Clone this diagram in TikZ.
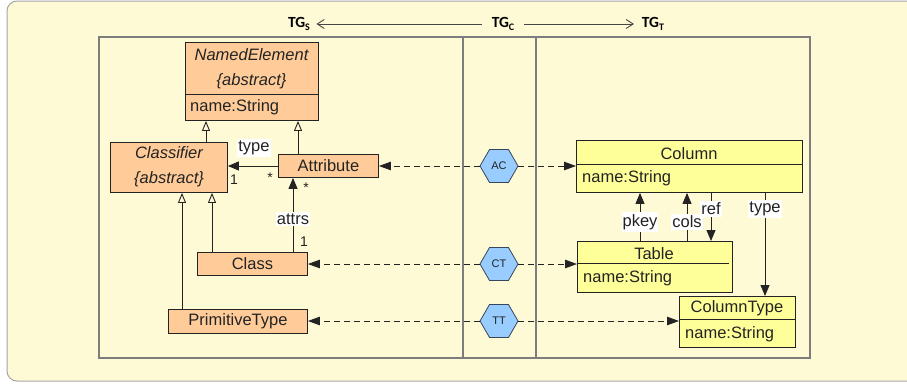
\documentclass[tikz,border=0pt]{standalone}
\usepackage{fontspec}
\setmainfont{Liberation Sans}
\newfontfamily\titlefont{Carlito}
\usetikzlibrary{arrows.meta,shapes.geometric}

\definecolor{bgcream}{RGB}{255,250,214}
\definecolor{bgedge}{RGB}{165,165,165}
\definecolor{framegray}{RGB}{125,125,125}
\definecolor{peach}{RGB}{255,204,153}
\definecolor{lemon}{RGB}{255,255,153}
\definecolor{skyblue}{RGB}{153,204,255}
\definecolor{hexedge}{RGB}{55,70,95}
\definecolor{inkdark}{RGB}{35,35,35}
\definecolor{titleink}{RGB}{70,70,70}

\tikzset{
  txt/.style={font=\fontsize{16.5}{19}\selectfont, inner sep=0pt, text=inkdark},
  itxt/.style={txt, font=\fontsize{16.5}{19}\selectfont\itshape},
  mult/.style={font=\fontsize{14}{14}\selectfont, inner sep=0pt, text=inkdark},
  lbl/.style={txt, fill=white, inner xsep=1pt, inner ysep=2pt},
  umlbox/.style={txt, draw=inkdark, line width=0.9pt, anchor=north west},
  obox/.style={umlbox, fill=peach},
  ybox/.style={umlbox, fill=lemon},
  sepline/.style={draw=inkdark, line width=0.9pt},
  hexa/.style={regular polygon, regular polygon sides=6, minimum size=38pt,
    inner sep=0pt, fill=skyblue, draw=hexedge, line width=0.8pt,
    font=\fontsize{11}{11}\selectfont, text=inkdark},
  gen/.style={draw=inkdark, line width=0.9pt,
    -{Triangle[open, length=10pt, width=8pt, line width=0.9pt]}},
  assoc/.style={draw=inkdark, line width=0.9pt,
    -{Triangle[length=11pt, width=9pt]}},
  corr/.style={draw=inkdark, line width=0.9pt, dash pattern=on 6pt off 4pt,
    -{Triangle[length=12pt, width=8.5pt]}},
  frame/.style={draw=framegray, line width=1.5pt},
  ttl/.style={font=\titlefont\bfseries\fontsize{15.5}{16}\selectfont, inner sep=0pt, text=black},
  titlearr/.style={draw=titleink, line width=0.9pt,
    -{Straight Barb[length=7pt, width=9pt, line width=0.9pt]}}
}

\newcommand{\tgsub}[1]{TG\raisebox{-0.3ex}{\fontsize{10}{10}\selectfont #1}}

\begin{document}
\begin{tikzpicture}[x=1pt, y=-1pt]
\useasboundingbox (0,0) rectangle (907,383);
\clip (0,0) rectangle (907,383);

% background panel
\draw[fill=bgcream, draw=bgedge, line width=1pt, rounded corners=10pt]
  (7,1) rectangle (940,381);

% three-column frame
\draw[frame] (99,37) rectangle (810,358);
\draw[frame] (463,37) -- (463,358);
\draw[frame] (536,37) -- (536,358);

% column headings
\node[ttl, outer xsep=6.5pt] (tgs) at (299,24) {\tgsub{S}};
\node[ttl, outer xsep=10pt] (tgc) at (503,24) {\tgsub{C}};
\node[ttl, outer xsep=8pt]  (tgt) at (653,24) {\tgsub{T}};
\draw[titlearr] (tgc) -- (tgs);
\draw[titlearr] (tgc) -- (tgt);

% ---------- source metamodel ----------
\node[obox, minimum width=133pt, minimum height=78pt] (ne) at (185,42) {};
\draw[sepline] (ne.west |- 0,94) -- (ne.east |- 0,94);
\node[itxt] (netitle) at (251.5,55) {NamedElement};
\node[itxt] (neabs) at (251.5,81) {\{abstract\}};
\node[txt, anchor=west] (nename) at (190,107) {name:String};

\node[obox, minimum width=117pt, minimum height=50pt] (cl) at (110,142) {};
\node[itxt] (cltitle) at (169,153) {Classifier};
\node[itxt] (clabs) at (169,179) {\{abstract\}};

\node[obox, minimum width=100pt, minimum height=23pt] (attr) at (278,154) {Attribute};
\node[obox, minimum width=110pt, minimum height=23pt] (cls) at (197,252) {Class};
\node[obox, minimum width=139pt, minimum height=24pt] (prim) at (168,309) {PrimitiveType};

% generalisations
\draw[gen] (cl.north -| 206,0) -- (ne.south -| 206,0);
\draw[gen] (attr.north -| 298,0) -- (ne.south -| 298,0);
\draw[gen] (cls.north -| 212,0) -- (cl.south -| 212,0);
\draw[gen] (prim.north -| 182,0) -- (cl.south -| 182,0);

% associations
\draw[assoc] (attr.west |- 0,166) -- (cl.east |- 0,166);
\node[lbl] (ltype) at (254,148) {type};
\node[mult] (m1a) at (234,180) {1};
\node[mult] (m1b) at (270,178) {*};

\draw[assoc] (cls.north -| 293,0) -- (attr.south -| 293,0);
\node[lbl] (lattrs) at (293,219) {attrs};
\node[mult] (m2a) at (304,242) {1};
\node[mult] (m2b) at (306,188) {*};

% ---------- target metamodel ----------
\node[ybox, minimum width=226pt, minimum height=52pt] (col) at (576,140) {};
\draw[sepline] (col.west |- 0,164) -- (col.east |- 0,164);
\node[txt] (coltitle) at (689,154) {Column};
\node[txt, anchor=west] (colname) at (582,178) {name:String};

\node[ybox, minimum width=155pt, minimum height=51pt] (tbl) at (577,241) {};
\draw[sepline] (tbl.west |- 0,263) -- (729,263);
\node[txt] (tbltitle) at (654,254) {Table};
\node[txt, anchor=west] (tblname) at (583,278) {name:String};

\node[ybox, minimum width=116pt, minimum height=51pt] (ctype) at (679,296) {};
\draw[sepline] (ctype.west |- 0,319) -- (ctype.east |- 0,319);
\node[txt] (ctypetitle) at (737,308) {ColumnType};
\node[txt, anchor=west] (ctypename) at (685,334) {name:String};

\draw[assoc] (tbl.north -| 640,0) -- (col.south -| 640,0);
\draw[assoc] (tbl.north -| 687,0) -- (col.south -| 687,0);
\draw[assoc] (col.south -| 711,0) -- (tbl.north -| 711,0);
\draw[assoc] (col.south -| 765,0) -- (ctype.north -| 765,0);
\node[lbl] (lpkey) at (640,222) {pkey};
\node[lbl] (lcols) at (687,222) {cols};
\node[lbl] (lref) at (711,209) {ref};
\node[lbl] (ltype2) at (765,209) {type};

% ---------- correspondence nodes ----------
\node[hexa] (ac) at (499,166) {AC};
\node[hexa] (ct) at (499,264) {CT};
\node[hexa] (tt) at (499,321) {TT};

\draw[corr] (ac.west) -- (ac.west -| attr.east);
\draw[corr] (ac.east) -- (ac.east -| col.west);
\draw[corr] (ct.west) -- (ct.west -| cls.east);
\draw[corr] (ct.east) -- (ct.east -| tbl.west);
\draw[corr] (tt.west) -- (tt.west -| prim.east);
\draw[corr] (tt.east) -- (tt.east -| ctype.west);
\end{tikzpicture}
\end{document}
